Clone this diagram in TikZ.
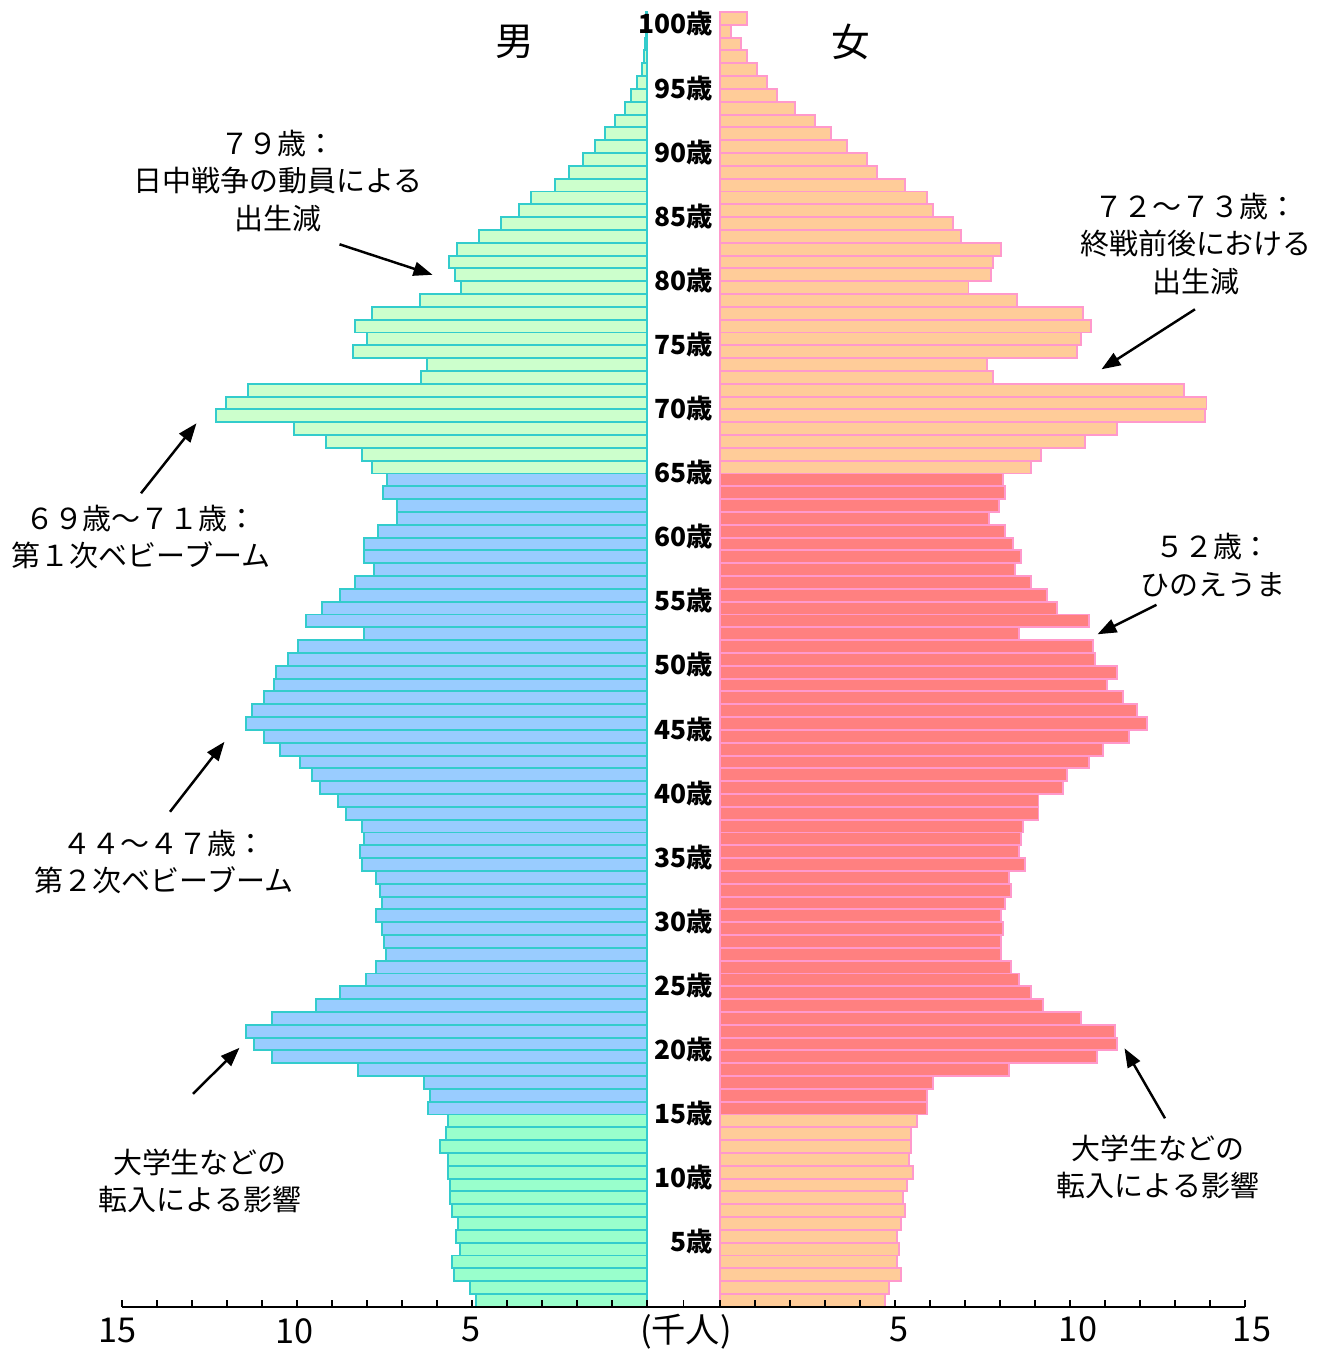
\documentclass[tikz,border=0pt]{standalone}
\usepackage{fontspec}
\newfontfamily\jpfont{Noto Sans CJK JP}
\usepackage{xcolor}
\usetikzlibrary{arrows.meta}
\definecolor{oldM}{HTML}{CCFFCC}
\definecolor{midM}{HTML}{99CCFF}
\definecolor{kidM}{HTML}{99FFCC}
\definecolor{lineM}{HTML}{33CCCC}
\definecolor{oldF}{HTML}{FFCC99}
\definecolor{midF}{HTML}{FF8080}
\definecolor{lineF}{HTML}{FF99CC}

\begin{document}
\begin{tikzpicture}[
  x=0.7cm, y=0.2564cm,
  malebar/.style={draw=lineM, line width=1.1pt},
  femalebar/.style={draw=lineF, line width=1.1pt},
  agelabel/.style={font=\jpfont\bfseries\fontsize{15}{18}\selectfont, anchor=east, inner sep=0pt},
  note/.style={font=\jpfont\fontsize{16.5}{21.4}\selectfont, align=center, inner sep=0pt},
  sexlabel/.style={font=\jpfont\fontsize{22}{24}\selectfont, inner sep=0pt},
  scalenum/.style={font=\jpfont\fontsize{19.5}{22}\selectfont, inner sep=0pt},
  arrow/.style={-{Triangle[length=0.38cm, width=0.28cm]}, line width=1.4pt},
  tick/.style={line width=0.9pt}
]
  \useasboundingbox (-13.67cm,-0.844cm) rectangle (12.83cm,26.136cm);

  % Male bars
  \begin{scope}[xshift=-0.73cm]
    \foreach \v [count=\a from 0] in {4.89,5.07,5.52,5.58,5.35,5.47,5.41,5.58,5.64,5.64,5.69,5.69,5.92,5.75,5.69}
      \filldraw[malebar, fill=kidM] (-\v,\a) rectangle (0,\a+1);
    \foreach \v [count=\a from 15] in {6.27,6.21,6.38,8.27,10.72,11.24,11.47,10.72,9.47,8.78,
        8.04,7.75,7.47,7.52,7.58,7.75,7.58,7.64,7.75,8.15,
        8.21,8.09,8.15,8.61,8.84,9.35,9.58,9.92,10.49,10.95,
        11.47,11.29,10.95,10.67,10.61,10.27,9.98,8.09,9.75,9.29,
        8.78,8.33,7.81,8.09,8.09,7.69,7.13,7.13,7.53,7.42}
      \filldraw[malebar, fill=midM] (-\v,\a) rectangle (0,\a+1);
    \foreach \v [count=\a from 65] in {7.87,8.15,9.18,10.09,12.32,12.04,11.41,6.45,6.28,8.39,
        7.99,8.33,7.87,6.49,5.31,5.48,5.65,5.42,4.79,4.16,
        3.65,3.31,2.63,2.23,1.84,1.48,1.19,0.91,0.63,0.47,
        0.29,0.15,0.08,0.05,0.03,0.03}
      \filldraw[malebar, fill=oldM] (-\v,\a) rectangle (0,\a+1);
    \draw[lineM, line width=1.4pt] (0,0) -- (0,101);
    \foreach \k in {0,...,15}
      \draw[tick] (-\k,0) -- ++(0,0.14cm);
  \end{scope}

  % Female bars
  \begin{scope}[xshift=0.73cm]
    \foreach \v [count=\a from 0] in {4.71,4.83,5.17,5.06,5.11,5.06,5.17,5.29,5.23,5.34,5.51,5.40,5.46,5.46,5.63}
      \filldraw[femalebar, fill=oldF] (0,\a) rectangle (\v,\a+1);
    \foreach \v [count=\a from 15] in {5.91,5.91,6.09,8.26,10.77,11.34,11.29,10.31,9.23,8.89,
        8.54,8.31,8.03,8.03,8.09,8.03,8.14,8.31,8.26,8.71,
        8.54,8.60,8.66,9.10,9.10,9.80,9.91,10.54,10.94,11.69,
        12.20,11.91,11.51,11.06,11.34,10.71,10.66,8.55,10.54,9.63,
        9.34,8.88,8.43,8.60,8.37,8.14,7.68,7.97,8.14,8.08}
      \filldraw[femalebar, fill=midF] (0,\a) rectangle (\v,\a+1);
    \foreach \v [count=\a from 65] in {8.88,9.17,10.43,11.33,13.86,13.90,13.27,7.80,7.62,10.20,
        10.31,10.60,10.36,8.48,7.10,7.73,7.79,8.03,6.89,6.66,
        6.09,5.91,5.29,4.49,4.20,3.62,3.17,2.71,2.15,1.63,
        1.34,1.06,0.78,0.60,0.31,0.78}
      \filldraw[femalebar, fill=oldF] (0,\a) rectangle (\v,\a+1);
    \foreach \k in {0,...,15}
      \draw[tick] (\k,0) -- ++(0,0.14cm);
  \end{scope}

  % Axis
  \draw[line width=1.1pt] (-11.23cm,0) -- (11.23cm,0);
  \draw[tick] (0,0) -- ++(0,0.14cm);
  \node[scalenum] (m15) at (-11.31cm,-0.48cm) {15};
  \node[scalenum] (m10) at (-7.77cm,-0.48cm) {10};
  \node[scalenum] (m5) at (-4.25cm,-0.45cm) {5};
  \node[scalenum] (unit) at (0.05cm,-0.50cm) {(千人)};
  \node[scalenum] (f5) at (4.31cm,-0.45cm) {5};
  \node[scalenum] (f10) at (7.89cm,-0.45cm) {10};
  \node[scalenum] (f15) at (11.37cm,-0.45cm) {15};

  % Age labels
  \foreach \a in {5,10,...,100}
    \node[agelabel] (age\a) at (0.6cm,\a+0.07) {{\a}歳};
  \node[sexlabel] (male) at (-3.37cm,25.30cm) {男};
  \node[sexlabel] (female) at (3.35cm,25.30cm) {女};

  % Notes
  \node[note] (n79) at (-8.11cm,22.52cm) {７９歳：\\日中戦争の動員による\\出生減};
  \node[note] (n69) at (-10.85cm,15.40cm) {６９歳～７１歳：\\第１次ベビーブーム};
  \node[note] (n44) at (-10.39cm,8.90cm) {４４～４７歳：\\第２次ベビーブーム};
  \node[note] (nuniL) at (-9.67cm,2.52cm) {大学生などの\\転入による影響};
  \node[note] (n72) at (10.25cm,21.26cm) {７２～７３歳：\\終戦前後における\\出生減};
  \node[note] (n52) at (10.59cm,14.84cm) {５２歳：\\ひのえうま};
  \node[note] (nuniR) at (9.49cm,2.80cm) {大学生などの\\転入による影響};

  % Arrows
  \coordinate (s79) at (-6.88cm,21.25cm);   \coordinate (p79) at (-5.02cm,20.64cm);
  \coordinate (s69) at (-10.85cm,16.27cm);  \coordinate (p69) at (-9.74cm,17.67cm);
  \coordinate (s44) at (-10.27cm,9.90cm);   \coordinate (p44) at (-9.18cm,11.30cm);
  \coordinate (suniL) at (-9.81cm,4.26cm);  \coordinate (puniL) at (-8.88cm,5.18cm);
  \coordinate (s72) at (10.23cm,19.95cm);   \coordinate (p72) at (8.36cm,18.75cm);
  \coordinate (s52) at (9.46cm,14.04cm);    \coordinate (p52) at (8.28cm,13.45cm);
  \coordinate (suniR) at (9.63cm,3.77cm);   \coordinate (puniR) at (8.82cm,5.17cm);
  \draw[arrow] (s79) -- (p79);
  \draw[arrow] (s69) -- (p69);
  \draw[arrow] (s44) -- (p44);
  \draw[arrow] (suniL) -- (puniL);
  \draw[arrow] (s72) -- (p72);
  \draw[arrow] (s52) -- (p52);
  \draw[arrow] (suniR) -- (puniR);
\end{tikzpicture}
\end{document}
